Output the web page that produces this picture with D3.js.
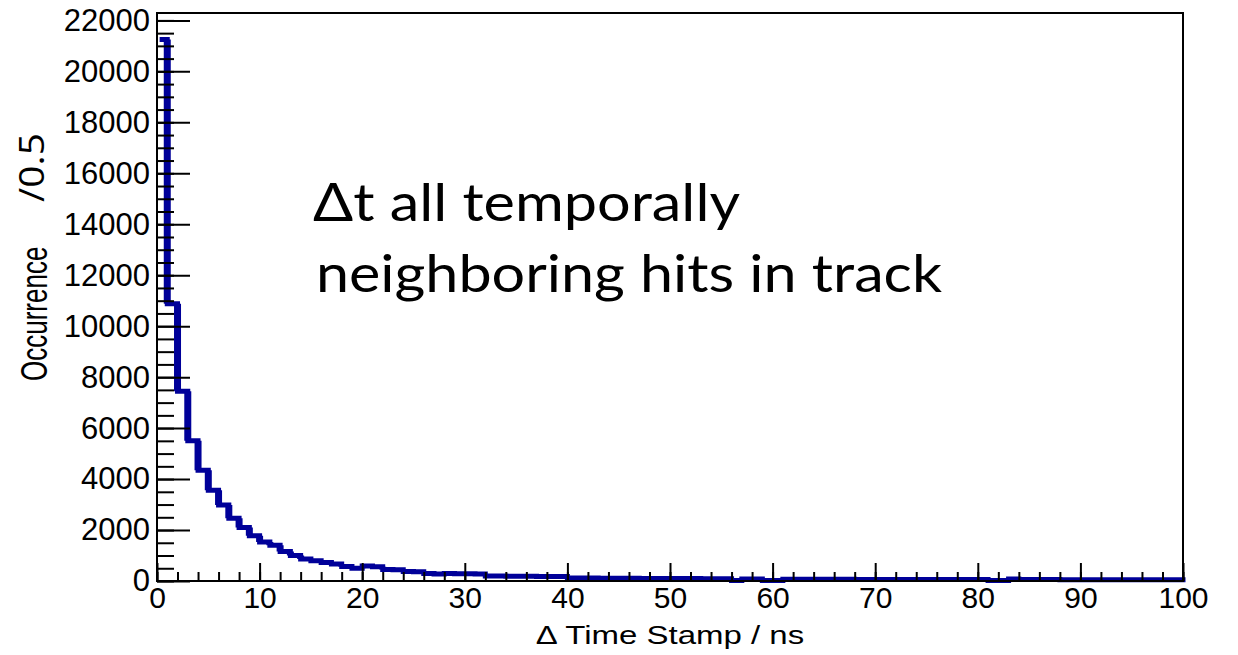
<!DOCTYPE html>
<html>
<head>
<meta charset="utf-8">
<script src="https://cdn.jsdelivr.net/npm/d3@7"></script>
<style>
  html, body { margin: 0; padding: 0; background: #ffffff; }
  svg { display: block; }
</style>
</head>
<body>
<svg id="chart" width="1238" height="655"></svg>
<script>
// ---------------- data ----------------
// histogram bin low edges (ns); the last bin ends at 100
const binLowEdges = [0.5].concat(d3.range(1, 100));
const binUpperEnd = 100;
// counts per bin
const binCounts = [
  21250, 10880, 7450, 5500, 4350, 3560, 2980, 2460, 2100, 1780,
  1530, 1400, 1160, 1000, 860, 790, 730, 670, 570, 500,
  590, 560, 450, 440, 370, 360, 290, 270, 290, 280,
  285, 270,
  200, 195, 190, 190, 185, 180, 180, 175,
  120, 115, 115, 110, 110, 105, 105, 100, 100, 100, 95, 95, 95, 90, 90, 90,
  15, 75, 75, 20, 20,
  70, 70, 68, 68, 65, 65, 65, 62, 62, 60, 60, 60, 58, 58, 58, 56, 56, 55, 55, 55,
  15, 15, 75,
  55, 55, 54, 54, 53, 53, 52, 52, 50, 50, 50, 48, 48, 48, 46, 46
];
const xDomain = [0, 100];
const yDomain = [0, 22290];
const xTicks = [0, 10, 20, 30, 40, 50, 60, 70, 80, 90, 100];
const xMinorTicks = d3.range(0, 101, 2);
const yTicks = [0, 2000, 4000, 6000, 8000, 10000, 12000, 14000, 16000, 18000, 20000, 22000];
const yMinorTicks = d3.range(0, 22001, 500);
const xTitle = "\u0394 Time Stamp / ns";
const yTitle = "Occurrence";
const yTitleExtra = "/0.5";
const noteLines = ["\u0394t all temporally", "neighboring hits in track"];

// ---------------- layout ----------------
const svg = d3.select("#chart");
const pL = 157, pR = 1183, pT = 13, pB = 581;
const x = d3.scaleLinear().domain(xDomain).range([pL, pR]);
const y = d3.scaleLinear().domain(yDomain).range([pB, pT]);
const histColor = "#000099";
const font = "'Liberation Sans', Arial, Helvetica, sans-serif";

// ---------------- histogram ----------------
const bins = binCounts.map((c, i) => ({
  lo: binLowEdges[i],
  hi: i + 1 < binLowEdges.length ? binLowEdges[i + 1] : binUpperEnd,
  c
}));
// outline starts at the top of the first bin (no rise from the baseline)
const pts = [];
bins.forEach(b => { pts.push([x(b.lo), y(b.c)]); pts.push([x(b.hi), y(b.c)]); });

svg.append("path")
  .attr("d", d3.line()(pts))
  .attr("fill", "none")
  .attr("stroke", histColor)
  .attr("stroke-width", 5)
  .attr("stroke-linecap", "square")
  .attr("stroke-linejoin", "miter");

// vertical parts slightly thicker (picture is stretched horizontally)
let vd = "";
for (let i = 0; i < pts.length - 1; i++) {
  const p = pts[i], q = pts[i + 1];
  if (Math.abs(p[0] - q[0]) < 0.01 && Math.abs(p[1] - q[1]) > 0.01) {
    vd += `M${p[0]},${p[1]}V${q[1]}`;
  }
}
svg.append("path")
  .attr("d", vd)
  .attr("fill", "none")
  .attr("stroke", histColor)
  .attr("stroke-width", 7);

// ---------------- axes ----------------
function clean(g) { g.select(".domain").remove(); }

// y ticks (inward)
svg.append("g").attr("transform", `translate(${pL},0)`)
  .call(d3.axisRight(y).tickValues(yMinorTicks).tickSize(17).tickFormat(""))
  .call(clean)
  .selectAll("line").attr("stroke", "#000").attr("stroke-width", 2);
svg.append("g").attr("transform", `translate(${pL},0)`)
  .call(d3.axisRight(y).tickValues(yTicks).tickSize(33).tickFormat(""))
  .call(clean)
  .selectAll("line").attr("stroke", "#000").attr("stroke-width", 2);
// y labels
const yl = svg.append("g").attr("transform", `translate(${pL},0)`)
  .call(d3.axisLeft(y).tickValues(yTicks).tickSize(0).tickPadding(7).tickFormat(d3.format("d")))
  .call(clean);
yl.selectAll("text").attr("font-family", font).attr("font-size", 31).attr("fill", "#000");

// x ticks (inward)
svg.append("g").attr("transform", `translate(0,${pB})`)
  .call(d3.axisTop(x).tickValues(xMinorTicks).tickSize(9).tickFormat(""))
  .call(clean)
  .selectAll("line").attr("stroke", "#000").attr("stroke-width", 2);
svg.append("g").attr("transform", `translate(0,${pB})`)
  .call(d3.axisTop(x).tickValues(xTicks).tickSize(18).tickFormat(""))
  .call(clean)
  .selectAll("line").attr("stroke", "#000").attr("stroke-width", 2);
const xl = svg.append("g").attr("transform", `translate(0,${pB})`)
  .call(d3.axisBottom(x).tickValues(xTicks).tickSize(0).tickPadding(6).tickFormat(d3.format("d")))
  .call(clean);
xl.selectAll("text").attr("font-family", font).attr("font-size", 30).attr("fill", "#000");

// frame
svg.append("rect")
  .attr("x", pL).attr("y", pT)
  .attr("width", pR - pL).attr("height", pB - pT)
  .attr("fill", "none").attr("stroke", "#000").attr("stroke-width", 2);

// ---------------- titles ----------------
svg.append("text")
  .attr("transform", `translate(${(pL + pR) / 2},644) scale(1.32,1)`)
  .attr("text-anchor", "middle")
  .attr("font-family", font).attr("font-size", 25).attr("fill", "#000")
  .text(xTitle);

svg.append("text")
  .attr("transform", "translate(47,381) rotate(-90) scale(1,1.4)")
  .attr("text-anchor", "start")
  .attr("font-family", font).attr("font-size", 26).attr("fill", "#000")
  .text(yTitle);

svg.append("text")
  .attr("transform", "translate(44,202) rotate(-90)")
  .attr("text-anchor", "start")
  .attr("font-family", "'Open Sans', " + font).attr("font-size", 34).attr("fill", "#000")
  .attr("textLength", 69).attr("lengthAdjust", "spacingAndGlyphs")
  .text(yTitleExtra);

// ---------------- annotation ----------------
const noteX = [313, 316], noteY = [221, 292], noteW = [427, 626];
noteLines.forEach((t, i) => {
  svg.append("text")
    .attr("x", noteX[i]).attr("y", noteY[i])
    .attr("font-family", "Lato, 'Open Sans', sans-serif")
    .attr("font-size", 52).attr("fill", "#000")
    .attr("textLength", noteW[i]).attr("lengthAdjust", "spacingAndGlyphs")
    .text(t);
});
</script>
</body>
</html>
